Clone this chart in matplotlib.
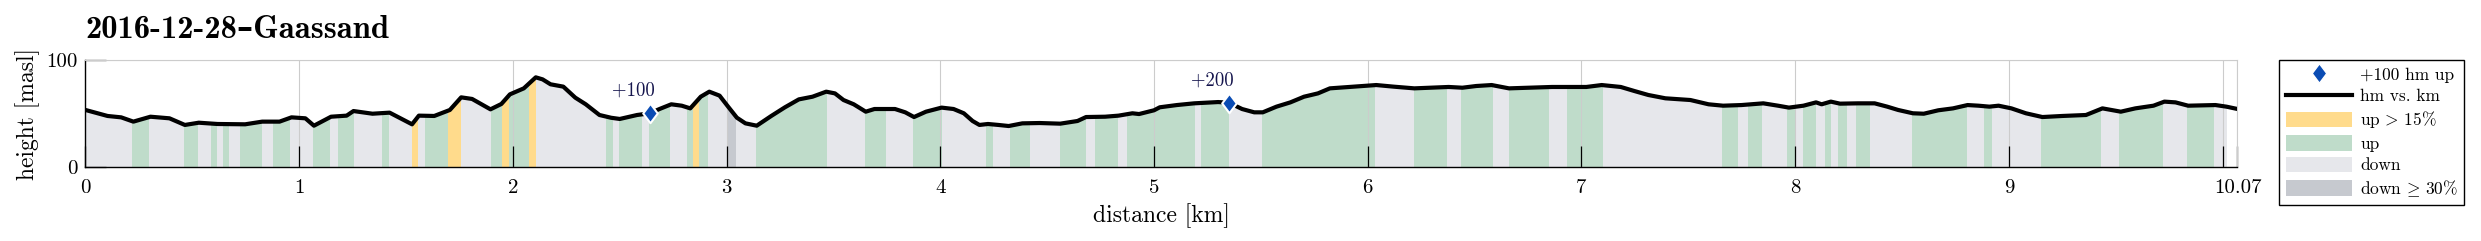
import numpy as np
import matplotlib
matplotlib.use('Agg')
import matplotlib.pyplot as plt
from matplotlib.lines import Line2D
from matplotlib.patches import Patch
from matplotlib.path import Path

plt.rcParams['font.family'] = ['cmr10', 'DejaVu Serif']
plt.rcParams['mathtext.fontset'] = 'cm'
plt.rcParams['axes.formatter.use_mathtext'] = True

# ---------------- data ----------------
dist_km = [0.000, 0.103, 0.167, 0.224, 0.304, 0.393, 0.465, 0.530, 0.618, 0.747,
           0.827, 0.908, 0.964, 1.029, 1.069, 1.149, 1.222, 1.254, 1.343, 1.423,
           1.528, 1.560, 1.632, 1.705, 1.758, 1.809, 1.895, 1.946, 1.986, 2.051,
           2.107, 2.139, 2.176, 2.236, 2.292, 2.341, 2.405, 2.460, 2.500, 2.581,
           2.641, 2.686, 2.741, 2.790, 2.830, 2.879, 2.919, 2.967, 3.007, 3.048,
           3.088, 3.141, 3.209, 3.273, 3.338, 3.402, 3.466, 3.507, 3.547, 3.595,
           3.651, 3.692, 3.788, 3.836, 3.877, 3.933, 4.006, 4.062, 4.110, 4.151,
           4.183, 4.223, 4.272, 4.320, 4.384, 4.465, 4.561, 4.642, 4.682, 4.771,
           4.834, 4.899, 4.930, 5.000, 5.027, 5.107, 5.188, 5.300, 5.351, 5.412,
           5.469, 5.509, 5.573, 5.638, 5.702, 5.767, 5.823, 5.895, 5.976, 6.040,
           6.121, 6.218, 6.298, 6.379, 6.443, 6.508, 6.580, 6.661, 6.749, 6.862,
           6.943, 7.023, 7.095, 7.184, 7.248, 7.313, 7.393, 7.510, 7.595, 7.663,
           7.749, 7.851, 7.920, 7.971, 8.039, 8.098, 8.124, 8.167, 8.210, 8.295,
           8.372, 8.431, 8.482, 8.551, 8.602, 8.670, 8.739, 8.807, 8.858, 8.909,
           8.952, 9.012, 9.080, 9.157, 9.251, 9.361, 9.438, 9.524, 9.592, 9.677,
           9.728, 9.780, 9.839, 9.967, 10.018, 10.070]
height_m = [53.3, 47.7, 46.4, 42.4, 47.0, 45.5, 39.3, 41.4, 40.2, 39.9,
            42.4, 42.4, 46.4, 45.5, 38.6, 47.0, 48.0, 52.3, 49.8, 50.8,
            39.9, 48.0, 47.7, 53.3, 65.1, 63.6, 53.9, 58.9, 67.9, 73.5,
            83.8, 81.9, 77.3, 75.1, 64.8, 58.6, 48.6, 46.0, 44.9, 48.6,
            50.2, 54.2, 58.6, 57.3, 54.8, 65.7, 70.4, 66.7, 56.4, 46.1,
            40.8, 38.6, 47.7, 55.8, 63.2, 65.7, 70.4, 68.8, 62.6, 58.6,
            51.7, 54.2, 54.2, 51.1, 46.7, 51.7, 55.5, 54.2, 50.2, 43.0,
            39.3, 40.2, 39.3, 38.3, 40.8, 41.1, 40.5, 43.0, 46.7, 47.0,
            48.0, 50.2, 49.5, 53.0, 55.8, 57.9, 59.5, 60.7, 60.1, 54.2,
            51.1, 51.1, 56.4, 60.4, 65.7, 68.8, 73.5, 74.5, 75.7, 76.6,
            75.1, 73.5, 74.1, 74.8, 74.1, 75.7, 76.6, 73.5, 74.1, 74.8,
            74.8, 74.8, 76.6, 74.8, 71.0, 67.3, 64.2, 62.6, 58.6, 57.3,
            57.9, 59.5, 57.3, 55.5, 57.3, 60.4, 58.6, 61.1, 59.2, 59.5,
            59.5, 56.4, 53.3, 50.2, 49.8, 53.0, 54.8, 57.9, 57.3, 56.4,
            57.3, 54.8, 50.2, 46.7, 47.7, 48.6, 54.8, 51.7, 54.8, 57.3,
            61.1, 60.4, 57.3, 57.9, 56.4, 54.2]

# segment boundaries (km) and slope class of each segment
# u = up, U = up > 15%, d = down, D = down >= 30%
seg_edges = [0.000, 0.219, 0.298, 0.465, 0.530, 0.591, 0.618, 0.647, 0.675, 0.723,
             0.827, 0.880, 0.959, 1.066, 1.146, 1.185, 1.257, 1.391, 1.423, 1.528,
             1.560, 1.592, 1.700, 1.761, 1.901, 1.951, 1.986, 2.078, 2.110, 2.437,
             2.469, 2.500, 2.605, 2.641, 2.738, 2.819, 2.846, 2.873, 2.917, 3.010,
             3.044, 3.141, 3.470, 3.648, 3.748, 3.874, 4.010, 4.215, 4.247, 4.328,
             4.420, 4.561, 4.682, 4.727, 4.832, 4.875, 5.193, 5.223, 5.351, 5.509,
             6.038, 6.217, 6.375, 6.441, 6.587, 6.665, 6.851, 6.937, 7.104, 7.660,
             7.737, 7.783, 7.847, 7.966, 8.002, 8.039, 8.098, 8.144, 8.171, 8.203,
             8.243, 8.285, 8.355, 8.547, 8.806, 8.887, 8.923, 9.153, 9.434, 9.520,
             9.725, 9.836, 9.962, 10.020]
seg_class = ['d', 'u', 'd', 'u', 'd', 'u', 'd', 'u', 'd', 'u',
             'd', 'u', 'd', 'u', 'd', 'u', 'd', 'u', 'd', 'U',
             'd', 'u', 'U', 'd', 'u', 'U', 'u', 'U', 'd', 'u',
             'd', 'u', 'd', 'u', 'd', 'u', 'U', 'u', 'd', 'D',
             'd', 'u', 'd', 'u', 'd', 'u', 'd', 'u', 'd', 'u',
             'd', 'u', 'd', 'u', 'd', 'u', 'd', 'u', 'd', 'u',
             'd', 'u', 'd', 'u', 'd', 'u', 'd', 'u', 'd', 'u',
             'd', 'u', 'd', 'u', 'd', 'u', 'd', 'u', 'd', 'u',
             'd', 'u', 'd', 'u', 'd', 'u', 'd', 'u', 'd', 'u',
             'd', 'u', 'd']

hm_km = [2.641, 5.351]
hm_h = [50.2, 60.1]
hm_labels = ['+100', '+200']

x_ticks = [0, 1, 2, 3, 4, 5, 6, 7, 8, 9, 10, 10.07]
x_tick_labels = ['0', '1', '2', '3', '4', '5', '6', '7', '8', '9', '', '10.07']
y_ticks = [0, 100]
y_tick_labels = ['0', '100']

title = '2016-12-28\u2013Gaassand'
legend_labels = ['+100 hm up', 'hm vs. km', r'up$\,>\,$15%', 'up', 'down', r'down$\,\geq\,$30%']

# ---------------- style ----------------
col = {'U': '#ffdb8c', 'u': '#bfdcca', 'd': '#e6e7eb', 'D': '#c6c9cf'}
blue = '#0a4cb4'
gridc = '#cccccc'
diamond = Path([(0, 1), (0.75, 0), (0, -1), (-0.75, 0), (0, 1)],
               [Path.MOVETO, Path.LINETO, Path.LINETO, Path.LINETO, Path.CLOSEPOLY])

fig = plt.figure(figsize=(24.81, 2.41), dpi=100)
ax = fig.add_axes([0.03446, 0.30705, 0.86739, 0.44398])

d = np.array(dist_km)
h = np.array(height_m)
for i, c in enumerate(seg_class):
    a, b = seg_edges[i], seg_edges[i + 1]
    inner = d[(d > a) & (d < b)]
    xs = np.concatenate([[a], inner, [b]])
    ys = np.interp(xs, d, h)
    ax.fill_between(xs, 0, ys, facecolor=col[c], edgecolor='none', linewidth=0,
                    antialiased=False, zorder=0.3)

ax.plot(d, h, color='k', lw=3, zorder=3, solid_joinstyle='round', solid_capstyle='butt')
ax.plot(hm_km, hm_h, ls='none', marker=diamond, ms=14, mfc=blue, mec='white', mew=1.5, zorder=4)
for xk, yk, lab in zip(hm_km, hm_h, hm_labels):
    ax.annotate(lab, (xk, yk), xytext=(-12, 16), textcoords='offset points',
                ha='center', va='center', fontsize=13.5, color='#15154d', zorder=5)

ax.set_xlim(0, 10.07)
ax.set_ylim(0, 100)
ax.set_xticks(x_ticks)
ax.set_xticklabels(x_tick_labels)
ax.set_yticks(y_ticks)
ax.set_yticklabels(y_tick_labels)
ax.set_axisbelow('line')
ax.grid(True, color=gridc, lw=0.8)
for s in ['top', 'right']:
    ax.spines[s].set_color(gridc)
    ax.spines[s].set_linewidth(0.8)
for s in ['left', 'bottom']:
    ax.spines[s].set_color('k')
    ax.spines[s].set_linewidth(1.0)
ax.tick_params(axis='both', direction='in', length=15, width=0.9, labelsize=15, color='k')
ax.tick_params(axis='x', pad=9)
ax.tick_params(axis='y', pad=6)

ax.set_xlabel('distance [km]', fontsize=17, labelpad=4)
ax.set_ylabel('height [masl]', fontsize=17, labelpad=4)
ax.set_title(title, loc='left', fontsize=23.5, fontweight='bold',
             family=['cmb10', 'DejaVu Serif'], pad=16)

handles = [Line2D([], [], ls='none', marker=diamond, ms=14, mfc=blue, mec='white', mew=1),
           Line2D([], [], color='k', lw=3),
           Patch(facecolor=col['U'], edgecolor='none'),
           Patch(facecolor=col['u'], edgecolor='none'),
           Patch(facecolor=col['d'], edgecolor='none'),
           Patch(facecolor=col['D'], edgecolor='none')]
leg = ax.legend(handles, legend_labels, loc='upper left', bbox_to_anchor=(1.0195, 1.0),
                borderaxespad=0, fontsize=12.5, handlelength=3.8, handleheight=1.0,
                handletextpad=0.5, labelspacing=0.28, borderpad=0.35,
                frameon=True, fancybox=False, edgecolor='k', framealpha=1)
leg.get_frame().set_linewidth(1.0)

fig.savefig('out.png', dpi=100)
